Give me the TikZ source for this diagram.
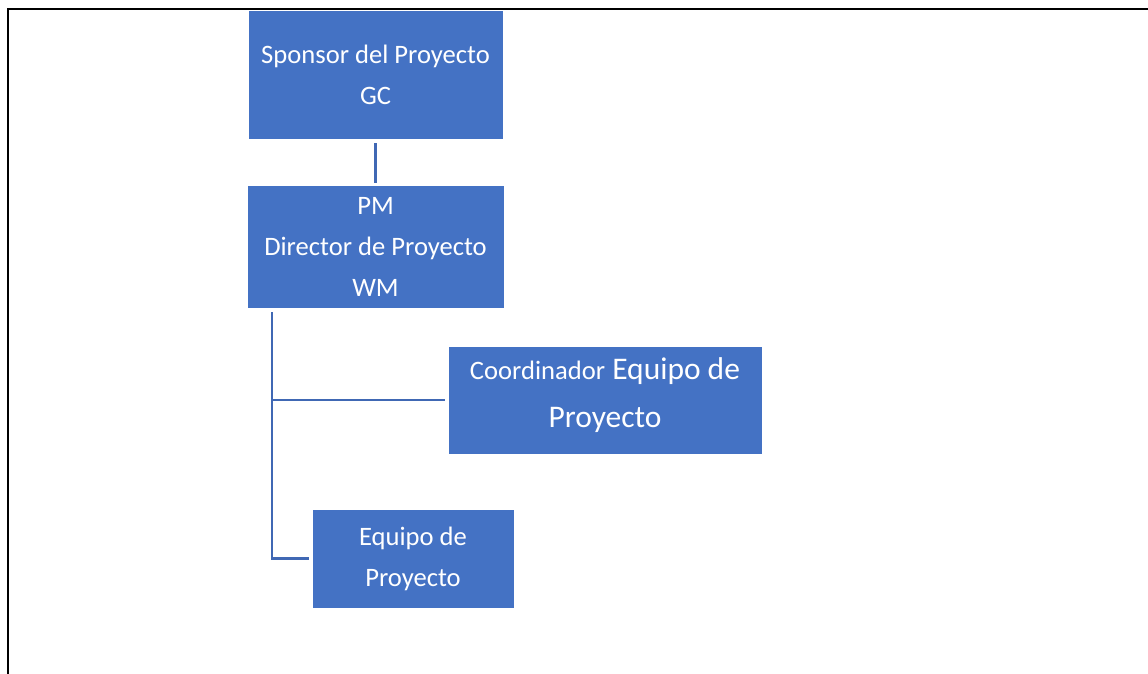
\documentclass[tikz,border=0pt]{standalone}
\usepackage{fontspec}
\setmainfont{Carlito}
\definecolor{boxblue}{HTML}{4472C4}
\definecolor{linkblue}{HTML}{4068B4}
\tikzset{
  orgbox/.style={rectangle, fill=boxblue, draw=white, line width=0.8pt, inner sep=0pt, text=white, align=center, font=\fontsize{26.6}{41}\selectfont},
  boxtext/.style={inner sep=0pt, text=white, align=center},
  link/.style={draw=linkblue, line width=2.4pt},
  frame/.style={draw=black, line width=2.2pt}
}
\begin{document}
\begin{tikzpicture}[x=1pt,y=-1pt]
\useasboundingbox (0,0) rectangle (1148,673);
\fill[white] (0,0) rectangle (1148,673);
\draw[frame] (8,675) -- (8,9) -- (1150,9);
\node[orgbox, minimum width=255pt, minimum height=129pt] (sp) at (375.5,74.5) {Sponsor del Proyecto\\GC};
\node[orgbox, minimum width=257pt, minimum height=123pt] (pm) at (375.5,246.5) {PM\\Director de Proyecto\\WM};
\node[orgbox, minimum width=314pt, minimum height=108pt] (co) at (605,400) {};
\node[boxtext, font=\fontsize{31.5}{48}\selectfont] (cot) at ([yshift=5pt]co.center) {{\fontsize{26.6}{48}\selectfont Coordinador} Equipo de\\Proyecto};
\node[orgbox, minimum width=202pt, minimum height=99pt] (eq) at (413,558.5) {Equipo de\\Proyecto};
\draw[link, shorten <=4pt, shorten >=2pt] (sp.south) -- (pm.north);
\coordinate (trunk) at (272,312);
\draw[link, shorten >=3pt] (trunk) |- (eq.west);
\draw[link, shorten >=3pt] (trunk) |- (co.west);
\end{tikzpicture}
\end{document}
